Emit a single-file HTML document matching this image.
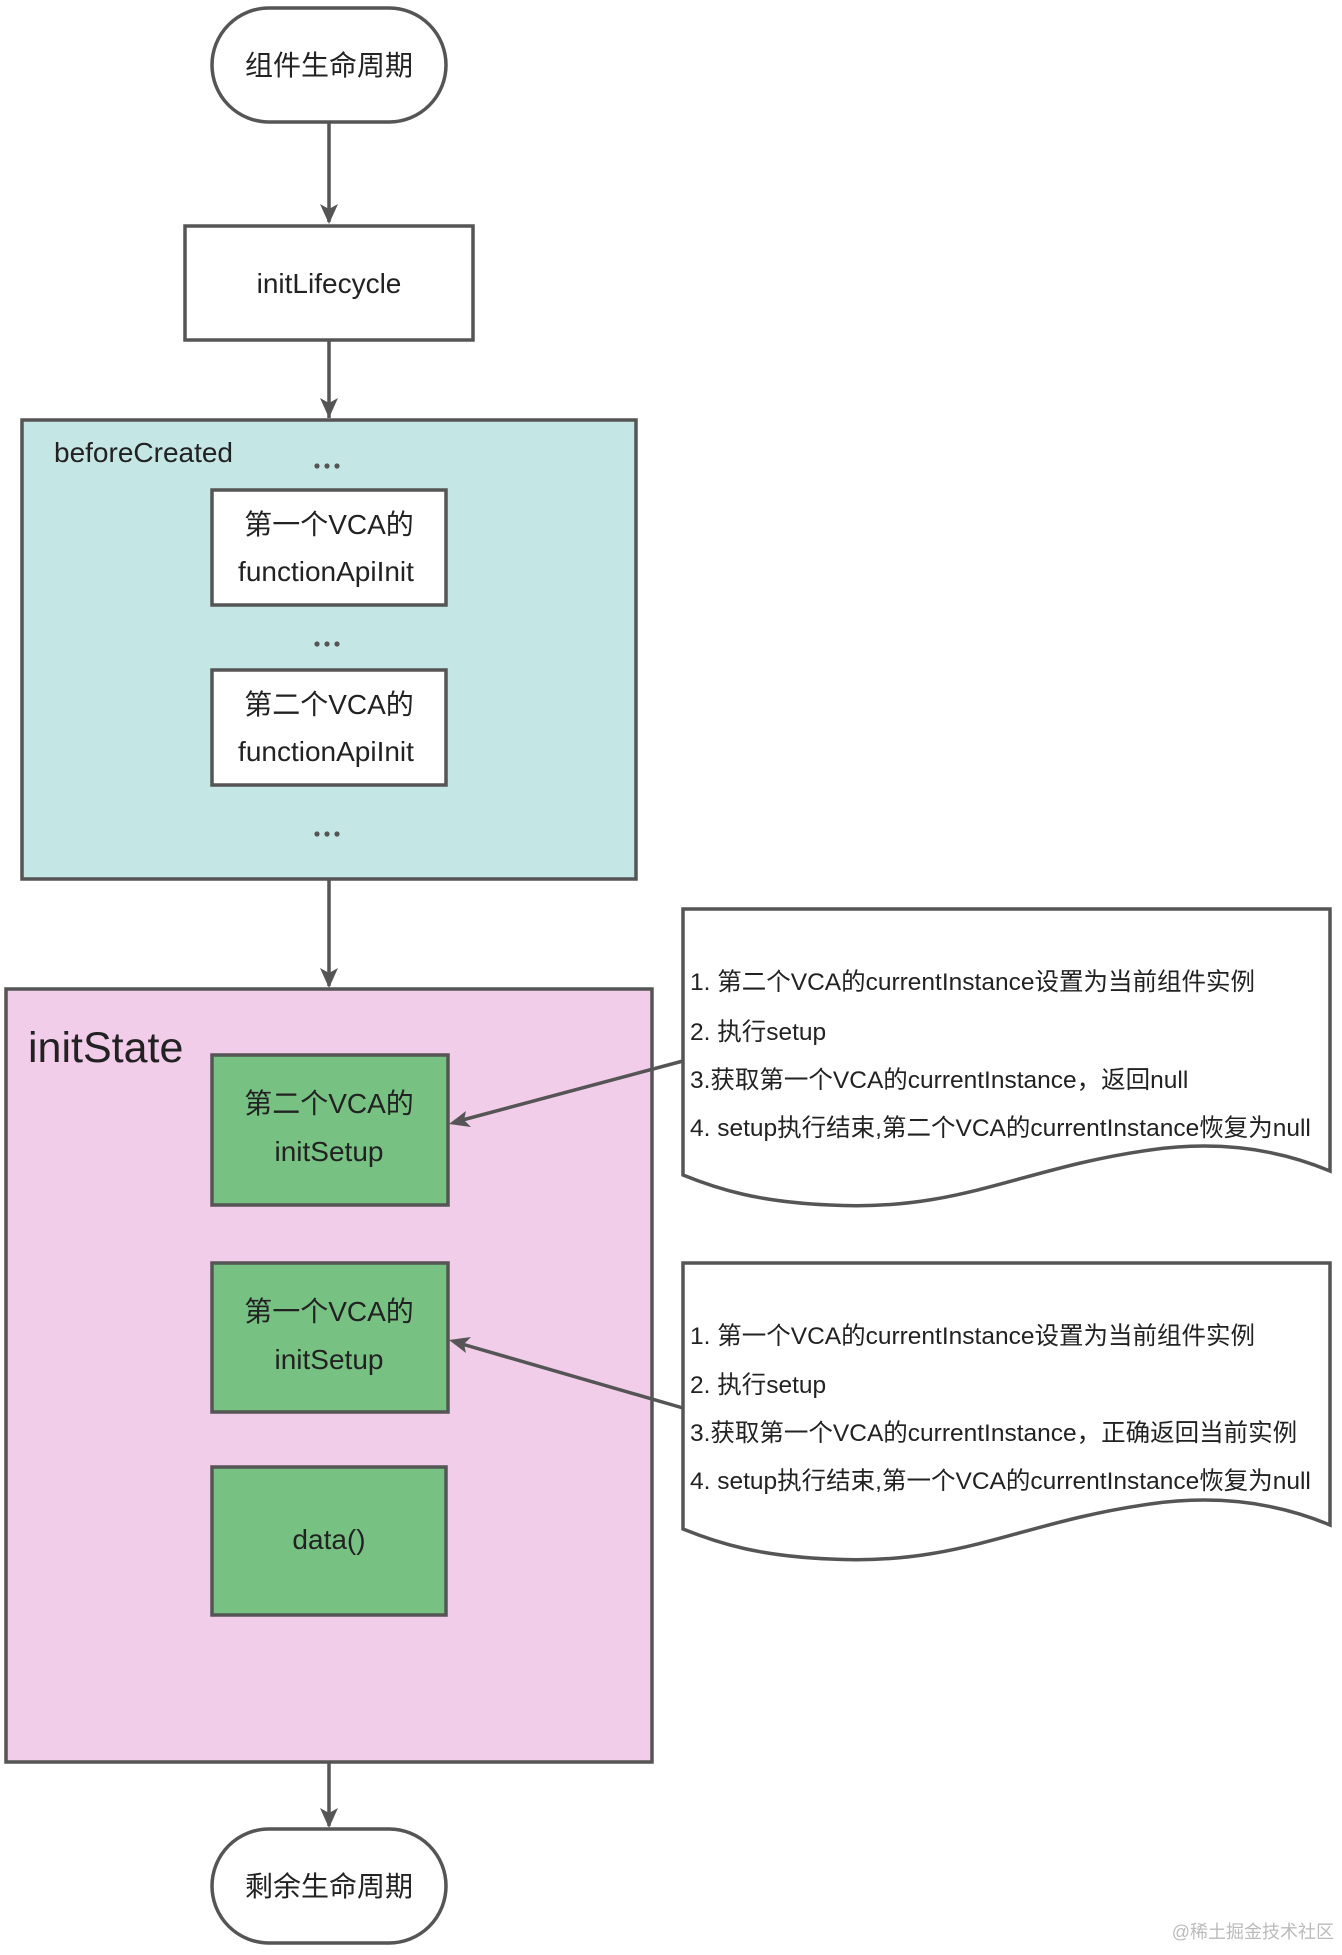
<!DOCTYPE html>
<html><head><meta charset="utf-8"><style>
html,body{margin:0;padding:0;background:#fff;}
svg{display:block;}
text{font-family:"Liberation Sans","Noto Sans CJK SC",sans-serif;fill:#222;}
</style></head><body>
<svg width="1342" height="1955" viewBox="0 0 1342 1955" xmlns="http://www.w3.org/2000/svg">
<g stroke="#555" stroke-width="3.5" fill="none">
<rect x="212" y="8" width="234" height="114" rx="57" fill="#fff"/>
<line x1="329" y1="122" x2="329" y2="222"/>
<rect x="185" y="226" width="288" height="114" fill="#fff"/>
<line x1="329" y1="340" x2="329" y2="418"/>
<rect x="22" y="420" width="614" height="459" fill="#c4e6e4"/>
<rect x="212" y="490" width="234" height="115" fill="#fff"/>
<rect x="212" y="670" width="234" height="115" fill="#fff"/>
<line x1="329" y1="879" x2="329" y2="986"/>
<rect x="6" y="989" width="646" height="773" fill="#f2cdea"/>
<rect x="212" y="1055" width="236" height="150" fill="#77c183"/>
<rect x="212" y="1263" width="236" height="149" fill="#77c183"/>
<rect x="212" y="1467" width="234" height="148" fill="#77c183"/>
<line x1="329" y1="1762" x2="329" y2="1826"/>
<rect x="212" y="1829" width="234" height="114" rx="57" fill="#fff"/>
<path d="M683,909 L1330,909 L1330,1171 C1280,1150 1220,1140 1150,1150 C1020,1168 960,1212 830,1205 C760,1202 720,1190 683,1175 Z" fill="#fff"/>
<path d="M683,1263 L1330,1263 L1330,1525 C1280,1504 1220,1494 1150,1504 C1020,1522 960,1566 830,1559 C760,1556 720,1544 683,1529 Z" fill="#fff"/>
<line x1="683" y1="1061" x2="455" y2="1122"/>
<line x1="683" y1="1408" x2="455" y2="1342"/>
</g>
<g fill="#555">
<path d="M329,224 L320,204 L329,209 L338,204 Z"/>
<path d="M329,418 L320,398 L329,403 L338,398 Z"/>
<path d="M329,988 L320,968 L329,973 L338,968 Z"/>
<path d="M329,1828 L320,1808 L329,1813 L338,1808 Z"/>
<path d="M449,1124 L466,1111 L464,1120 L471,1127 Z"/>
<path d="M449,1340 L471,1337 L464,1344 L466,1353 Z"/>
<circle cx="317" cy="466" r="2.6"/><circle cx="327" cy="466" r="2.6"/><circle cx="337" cy="466" r="2.6"/>
<circle cx="317" cy="644" r="2.6"/><circle cx="327" cy="644" r="2.6"/><circle cx="337" cy="644" r="2.6"/>
<circle cx="317" cy="834" r="2.6"/><circle cx="327" cy="834" r="2.6"/><circle cx="337" cy="834" r="2.6"/>
</g>
<g font-size="28" text-anchor="middle">
<text x="329" y="75">组件生命周期</text>
<text x="329" y="293">initLifecycle</text>
<text x="329" y="534">第一个VCA的</text>
<text x="326" y="581">functionApiInit</text>
<text x="329" y="714">第二个VCA的</text>
<text x="326" y="761">functionApiInit</text>
<text x="329" y="1113">第二个VCA的</text>
<text x="329" y="1161">initSetup</text>
<text x="329" y="1321">第一个VCA的</text>
<text x="329" y="1369">initSetup</text>
<text x="329" y="1549">data()</text>
<text x="329" y="1896">剩余生命周期</text>
</g>
<text x="54" y="462" font-size="28">beforeCreated</text>
<text x="28" y="1062" font-size="43">initState</text>
<g font-size="24.5">
<text x="690" y="990">1. 第二个VCA的currentInstance设置为当前组件实例</text>
<text x="690" y="1040">2. 执行setup</text>
<text x="690" y="1088">3.获取第一个VCA的currentInstance，返回null</text>
<text x="690" y="1136">4. setup执行结束,第二个VCA的currentInstance恢复为null</text>
<text x="690" y="1344">1. 第一个VCA的currentInstance设置为当前组件实例</text>
<text x="690" y="1393">2. 执行setup</text>
<text x="690" y="1441">3.获取第一个VCA的currentInstance，正确返回当前实例</text>
<text x="690" y="1489">4. setup执行结束,第一个VCA的currentInstance恢复为null</text>
</g>
<text x="1334" y="1938" font-size="18" text-anchor="end" style="fill:#bbb">@稀土掘金技术社区</text>
</svg>
</body></html>
